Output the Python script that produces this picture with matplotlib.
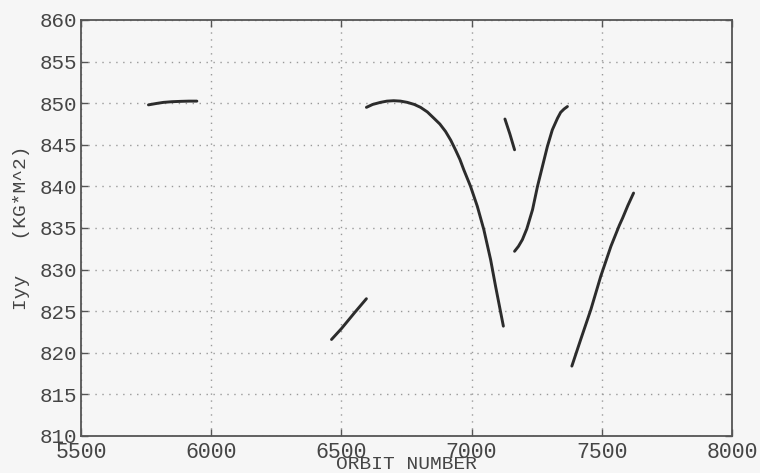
import matplotlib
matplotlib.use("Agg")
import matplotlib.pyplot as plt

# ---- data ----
seg1_x = [5759, 5790, 5817, 5850, 5881, 5915, 5945]
seg1_y = [849.8, 849.97, 850.1, 850.18, 850.22, 850.25, 850.25]

seg2_x = [6462, 6500, 6550, 6596]
seg2_y = [821.6, 822.9, 824.8, 826.5]

seg3_x = [6596, 6620, 6650, 6675, 6701, 6727, 6753, 6780, 6804, 6830, 6855, 6878,
          6900, 6920, 6938, 6955, 6970, 6996, 7022, 7047, 7073, 7092, 7122]
seg3_y = [849.5, 849.85, 850.1, 850.25, 850.3, 850.25, 850.1, 849.85, 849.5, 848.95,
          848.2, 847.5, 846.6, 845.55, 844.4, 843.25, 842.0, 840.0, 837.6, 834.8,
          831.2, 828.0, 823.2]

seg4_x = [7128, 7147, 7165]
seg4_y = [848.1, 846.3, 844.4]

seg5_x = [7165, 7180, 7195, 7212, 7234, 7253, 7272, 7291, 7310, 7330, 7342, 7355, 7368]
seg5_y = [832.2, 832.8, 833.6, 834.9, 837.2, 840.0, 842.4, 844.8, 846.8, 848.2, 848.9, 849.3, 849.6]

seg6_x = [7385, 7419, 7458, 7496, 7535, 7567, 7580, 7600, 7622]
seg6_y = [818.4, 821.6, 825.2, 829.2, 832.8, 835.3, 836.2, 837.7, 839.2]

segments = [(seg1_x, seg1_y), (seg2_x, seg2_y), (seg3_x, seg3_y),
            (seg4_x, seg4_y), (seg5_x, seg5_y), (seg6_x, seg6_y)]

x_ticks = [5500, 6000, 6500, 7000, 7500, 8000]
y_ticks = [810, 815, 820, 825, 830, 835, 840, 845, 850, 855, 860]

# ---- figure ----
bg = "#f6f6f6"
fig = plt.figure(figsize=(7.6, 4.73), dpi=100, facecolor=bg)
ax = fig.add_axes([81/760, 37/473, (732-81)/760, (436-20)/473], facecolor=bg)

font = ["Liberation Mono", "DejaVu Sans Mono"]
tcol = "#454545"

for xs, ys in segments:
    ax.plot(xs, ys, color="#2c2c2c", linewidth=2.1,
            solid_capstyle="round", solid_joinstyle="round")

ax.set_xlim(5500, 8000)
ax.set_ylim(810, 860)
ax.set_xticks(x_ticks)
ax.set_yticks(y_ticks)
ax.set_xticklabels([str(v) for v in x_ticks], family=font, fontsize=15.5, color=tcol)
ax.set_yticklabels([str(v) for v in y_ticks], family=font, fontsize=15, color=tcol)

ax.tick_params(direction="in", length=5, width=1, color="#555555",
               top=True, right=True)
ax.tick_params(axis="y", pad=3)
ax.tick_params(axis="x", pad=4)

ax.grid(True, linestyle=(0, (1, 4)), color="#999999", linewidth=1.0)

for s in ax.spines.values():
    s.set_color("#555555")
    s.set_linewidth(1.3)

ax.set_xlabel("ORBIT NUMBER", family=font, fontsize=14, color=tcol)
ax.xaxis.set_label_coords(0.5, -2/473, transform=fig.transFigure)
ax.xaxis.label.set_va("bottom")
ax.xaxis.label.set_position((0.5, 0))
ax.xaxis.set_label_coords(ax.get_position().x0 + ax.get_position().width / 2, 0.0,
                          transform=fig.transFigure)
ax.set_ylabel("Iyy   (KG*M^2)", family=font, fontsize=14, color=tcol, labelpad=7)

fig.savefig("out.png", dpi=100, facecolor=bg)
